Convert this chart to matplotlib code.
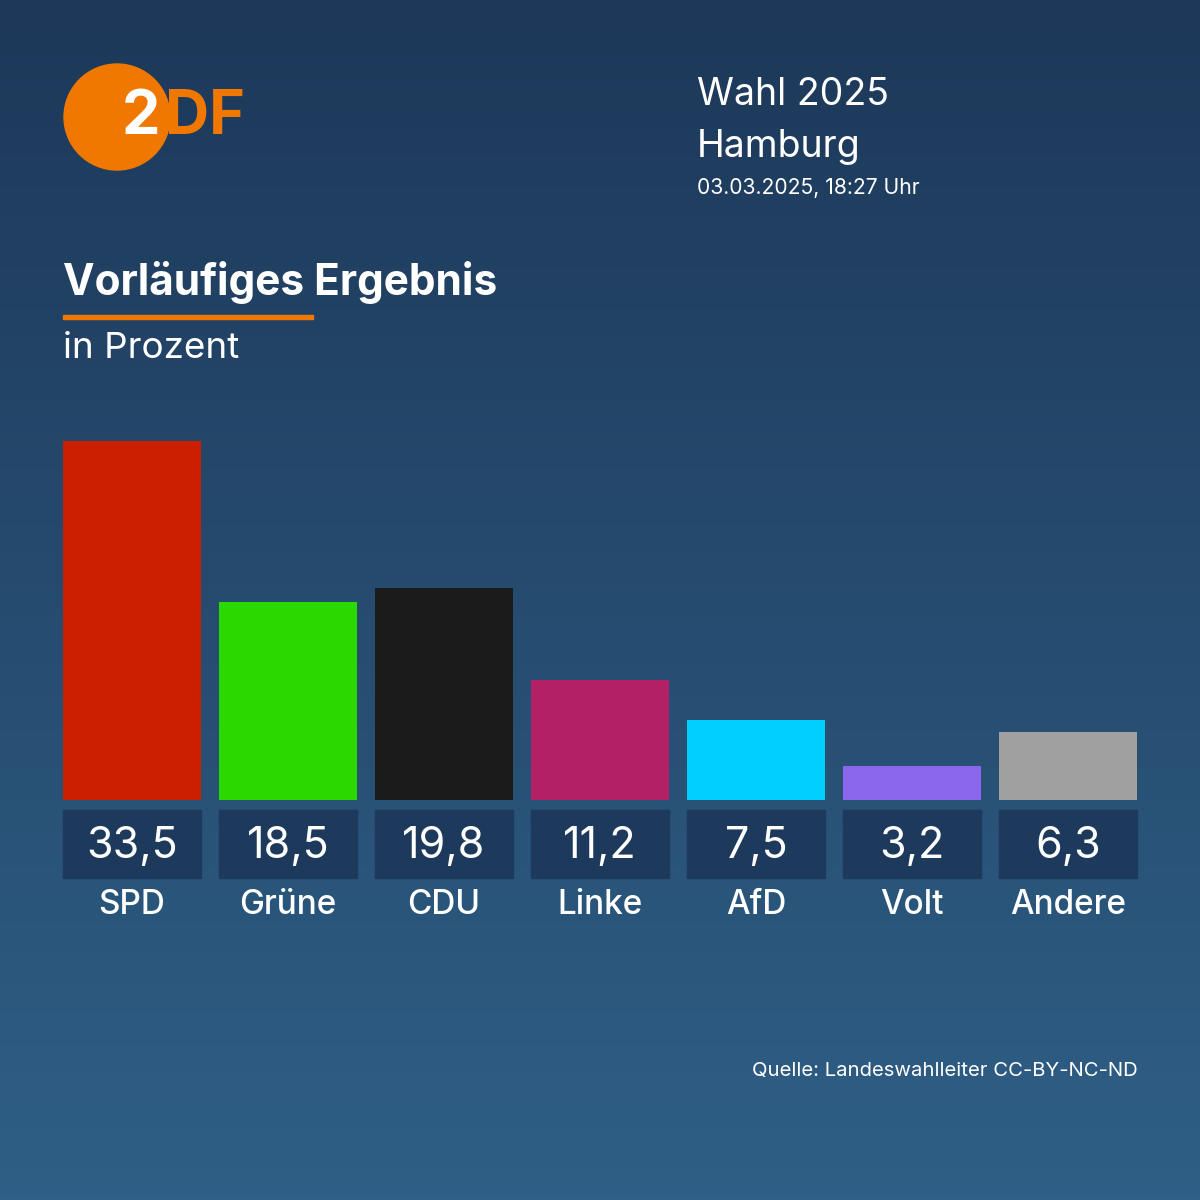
import matplotlib
matplotlib.use("Agg")
import matplotlib.pyplot as plt
import numpy as np
from matplotlib.patches import Circle, Rectangle
from matplotlib.colors import LinearSegmentedColormap

parties = ["SPD", "Grüne", "CDU", "Linke", "AfD", "Volt", "Andere"]
values = [33.5, 18.5, 19.8, 11.2, 7.5, 3.2, 6.3]
value_labels = ["33,5", "18,5", "19,8", "11,2", "7,5", "3,2", "6,3"]
colors = ["#cc1e00", "#2bd900", "#1b1b1b", "#b32066", "#00cfff", "#8b67ee", "#a0a0a0"]

plt.rcParams['font.family'] = ['Inter', 'DejaVu Sans']
W = H = 1200
fig = plt.figure(figsize=(12, 12), dpi=100)

bg = fig.add_axes([0, 0, 1, 1])
grad = np.linspace(0, 1, 256)[:, None]
cm = LinearSegmentedColormap.from_list("bg", ["#1d3859", "#2f5f86"])
bg.imshow(grad, aspect="auto", cmap=cm, extent=[0, W, H, 0])
bg.set_xlim(0, W); bg.set_ylim(H, 0); bg.axis("off")

# logo
bg.add_patch(Circle((117, 117), 53, color="#f07800"))
bg.text(122, 118, "2", color="white", fontsize=44, fontweight="bold", va="center", ha="left")
bg.text(165, 118, "DF", color="#f07800", fontsize=44, fontweight="bold", va="center", ha="left")

bg.text(697, 95, "Wahl 2025", color="white", fontsize=27, va="center")
bg.text(697, 147, "Hamburg", color="white", fontsize=27, va="center")
bg.text(697, 188, "03.03.2025, 18:27 Uhr", color="white", fontsize=15.2, va="center")
bg.text(63, 283, "Vorläufiges Ergebnis", color="white", fontsize=30.5, fontweight="bold", va="center")
bg.add_patch(Rectangle((63, 315), 250, 4, color="#f07800"))
bg.text(63, 348, "in Prozent", color="white", fontsize=26.5, va="center")
bg.text(1138, 1071, "Quelle: Landeswahlleiter CC-BY-NC-ND", color="white", fontsize=14.6, va="center", ha="right")

n = len(values)
ax = fig.add_axes([63/W, 1-800/H, (1137-63)/W, 359/H])
x = np.arange(n)
ax.bar(x, values, width=138/156, color=colors)
ax.set_xlim(-69/156, n-1+69/156)
ax.set_ylim(0, 33.5)
ax.axis("off")

for i in range(n):
    cx = 132 + 156*i
    bg.add_patch(Rectangle((cx-69, 810), 138, 68, color="#1d3a5c"))
    bg.text(cx, 846, value_labels[i], color="white", fontsize=31, ha="center", va="center")
    bg.text(cx, 905, parties[i], color="white", fontsize=24, fontweight="medium", ha="center", va="center")

fig.savefig("out.png", dpi=100)
